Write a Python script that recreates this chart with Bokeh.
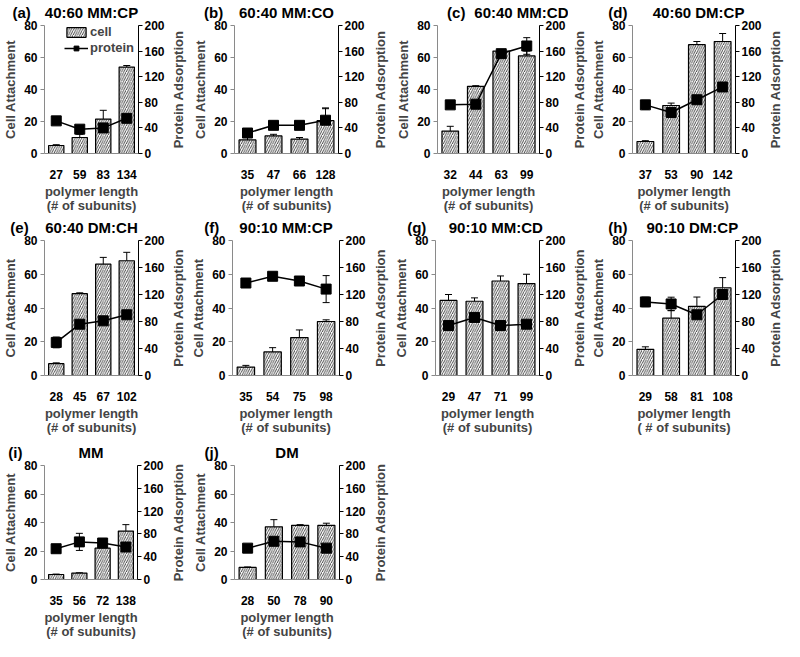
from bokeh.plotting import figure
from bokeh.layouts import column, row
from bokeh.models import (ColumnDataSource, Range1d, LinearAxis, FixedTicker, Whisker,
                          TeeHead, Legend, LegendItem)
from bokeh.embed import file_html
from bokeh.resources import INLINE

# ---- data ----
panel_ids = ["(a)", "(b)", "(c)", "(d)", "(e)", "(f)", "(g)", "(h)", "(i)", "(j)"]
panel_titles = ["40:60 MM:CP", "60:40 MM:CO", "60:40 MM:CD", "40:60 DM:CP",
                "60:40 DM:CH", "90:10 MM:CP", "90:10 MM:CD", "90:10 DM:CP",
                "MM", "DM"]
lengths_a = ["27", "59", "83", "134"]
lengths_b = ["35", "47", "66", "128"]
lengths_c = ["32", "44", "63", "99"]
lengths_d = ["37", "53", "90", "142"]
lengths_e = ["28", "45", "67", "102"]
lengths_f = ["35", "54", "75", "98"]
lengths_g = ["29", "47", "71", "99"]
lengths_h = ["29", "58", "81", "108"]
lengths_i = ["35", "56", "72", "138"]
lengths_j = ["28", "50", "78", "90"]

cell_a = [5, 10, 21.5, 54];   cell_err_a = [0.5, 2, 5.5, 1]
cell_b = [8.5, 11, 9, 20.5];  cell_err_b = [2.5, 1, 1, 8]
cell_c = [14, 42, 64, 61];    cell_err_c = [3, 0.4, 1, 3]
cell_d = [7.5, 30, 68, 70];   cell_err_d = [0.5, 1.5, 2, 5]
cell_e = [7, 48.5, 66, 68];   cell_err_e = [0.5, 0.5, 4, 5]
cell_f = [5, 14, 22.5, 32];   cell_err_f = [1, 2.5, 4.5, 1]
cell_g = [44.5, 44, 56, 54.5]; cell_err_g = [3.5, 2, 3, 5.5]
cell_h = [15.5, 34, 41, 52];  cell_err_h = [1.5, 4.5, 5.5, 6]
cell_i = [3.5, 4.5, 22, 34];  cell_err_i = [0.3, 0.2, 5, 4.5]
cell_j = [8.5, 37, 38, 38];   cell_err_j = [0.3, 5, 0.5, 1.5]

prot_a = [51, 38, 40, 55];    prot_err_a = [0, 0, 3, 0]
prot_b = [32, 44, 44, 52];    prot_err_b = [4, 2, 2, 18]
prot_c = [76, 77, 156, 168];  prot_err_c = [2, 2, 4, 13]
prot_d = [76, 64, 84, 104];   prot_err_d = [7, 5, 6, 2]
prot_e = [49, 76, 81, 90];    prot_err_e = [8, 15, 15, 10]
prot_f = [137, 147, 140, 128]; prot_err_f = [3, 5, 3, 20]
prot_g = [74, 86, 74, 76];    prot_err_g = [3, 12, 8, 15]
prot_h = [109, 106, 90, 120]; prot_err_h = [7, 10, 10, 4]
prot_i = [54, 66, 64, 57];    prot_err_i = [0, 15, 8, 0]
prot_j = [55, 67, 66, 55];    prot_err_j = [0, 13, 8, 0]

left_ticks = [0, 20, 40, 60, 80]
right_ticks = [0, 40, 80, 120, 160, 200]

lengths = [lengths_a, lengths_b, lengths_c, lengths_d, lengths_e,
           lengths_f, lengths_g, lengths_h, lengths_i, lengths_j]
cells = [cell_a, cell_b, cell_c, cell_d, cell_e, cell_f, cell_g, cell_h, cell_i, cell_j]
cell_errs = [cell_err_a, cell_err_b, cell_err_c, cell_err_d, cell_err_e,
             cell_err_f, cell_err_g, cell_err_h, cell_err_i, cell_err_j]
prots = [prot_a, prot_b, prot_c, prot_d, prot_e, prot_f, prot_g, prot_h, prot_i, prot_j]
prot_errs = [prot_err_a, prot_err_b, prot_err_c, prot_err_d, prot_err_e,
             prot_err_f, prot_err_g, prot_err_h, prot_err_i, prot_err_j]

FONT = "Liberation Sans"
GRAY = "#8a8a8a"
NB = "\u00a0"
LAB_W = 20  # width of the strip that carries "Protein Adsorption"

# layout (page px): width, height, border left/right/top/bottom,
# id padding (trailing, leading) and name padding (leading) in nbsp
layout_spec = [
    (167, 215, 36, 27, 23, 59, 11, 0, 0), (182, 215, 47, 31, 23, 60, 10, 0, 0),
    (179, 215, 48, 28, 23, 60, 0, 9, 16), (176, 215, 43, 27, 23, 60, 7, 0, 7),
    (167, 222, 36, 27, 25, 61, 12, 0, 0), (182, 222, 45, 30, 25, 61, 10, 0, 0),
    (179, 222, 46, 29, 25, 61, 9, 0, 4), (176, 222, 43, 27, 25, 61, 7, 0, 4),
    (167, 204, 36, 30, 28, 46, 14, 0, 0), (182, 204, 47, 30, 24, 46, 11, 0, 0),
]


def style_text_axis(ax):
    ax.major_label_text_font = FONT
    ax.major_label_text_font_style = "bold"
    ax.major_label_text_font_size = "12px"
    ax.major_label_text_color = "black"
    ax.axis_label_text_font = FONT
    ax.axis_label_text_font_style = "bold"
    ax.axis_label_text_font_size = "13px"
    ax.minor_tick_line_color = None


def make_panel(k):
    w, h, bl, br, bt, bb, id_trail, id_lead, name_pad = layout_spec[k]
    frame_h = h - bt - bb
    p = figure(width=w, height=h, output_backend="svg", toolbar_location=None,
               x_range=Range1d(0.5, 4.5), y_range=Range1d(0, 80),
               min_border_left=bl, min_border_right=br,
               min_border_top=bt, min_border_bottom=bb)
    p.extra_y_ranges = {"right": Range1d(0, 200)}
    p.outline_line_color = None
    p.xgrid.visible = False
    p.ygrid.visible = False
    p.background_fill_color = "white"
    p.border_fill_color = "white"

    xs = [1, 2, 3, 4]
    c = cells[k]; ce = cell_errs[k]; pr = prots[k]; pe = prot_errs[k]
    src = ColumnDataSource(dict(
        x=xs, cell=c,
        cup=[a + b for a, b in zip(c, ce)], clo=[a - b for a, b in zip(c, ce)],
        prot=pr,
        pup=[a + b for a, b in zip(pr, pe)], plo=[a - b for a, b in zip(pr, pe)],
    ))

    bars = p.vbar(x="x", top="cell", bottom=0, width=0.65, source=src,
                  fill_color="white", line_color="black", line_width=1.2,
                  hatch_pattern="/", hatch_color="#333333", hatch_scale=4.5,
                  hatch_weight=0.9)
    p.add_layout(Whisker(source=src, base="x", upper="cup", lower="clo",
                         line_color="black", line_width=1,
                         upper_head=TeeHead(size=7, line_color="black", line_width=1),
                         lower_head=TeeHead(size=7, line_color="black", line_width=1)))
    ln = p.line(x="x", y="prot", source=src, y_range_name="right",
                line_color="black", line_width=1.5)
    mk = p.scatter(x="x", y="prot", source=src, y_range_name="right", marker="square",
                   size=10, fill_color="black", line_color="black")
    p.add_layout(Whisker(source=src, base="x", upper="pup", lower="plo",
                         y_range_name="right", line_color="black", line_width=1,
                         upper_head=TeeHead(size=7, line_color="black", line_width=1),
                         lower_head=TeeHead(size=7, line_color="black", line_width=1)))

    # bottom axis
    xa = p.xaxis[0]
    style_text_axis(xa)
    xa.ticker = FixedTicker(ticks=xs)
    xa.major_label_overrides = {x: lab for x, lab in zip(xs, lengths[k])}
    xa.major_tick_line_color = None
    xa.axis_line_color = GRAY
    xa.major_label_standoff = 10
    pl = "( # of subunits)" if k == 7 else "(# of subunits)"
    xa.axis_label = "polymer length\n" + pl
    xa.axis_label_standoff = 2
    try:
        xa.axis_label_text_line_height = 0.95
    except Exception:
        pass

    # left axis
    ya = p.yaxis[0]
    style_text_axis(ya)
    ya.ticker = FixedTicker(ticks=left_ticks)
    ya.axis_line_color = GRAY
    ya.major_tick_line_color = GRAY
    ya.major_tick_out = 4
    ya.major_tick_in = 0
    ya.major_label_standoff = 3
    ya.axis_label = "Cell Attachment"
    ya.axis_label_standoff = 3

    # right axis (ticks only; its label is carried by the strip to the right)
    ra = LinearAxis(y_range_name="right", ticker=FixedTicker(ticks=right_ticks))
    style_text_axis(ra)
    ra.axis_line_color = "black"
    ra.major_tick_line_color = "black"
    ra.major_tick_out = 4
    ra.major_tick_in = 0
    ra.major_label_standoff = 2
    p.add_layout(ra, "right")

    # heading row: panel id at the frame's left edge, panel name at its centre
    ta = LinearAxis(ticker=FixedTicker(ticks=[0.5, 2.5]))
    style_text_axis(ta)
    ta.axis_line_color = None
    ta.major_tick_line_color = None
    ta.major_tick_out = 0
    ta.major_tick_in = 0
    ta.major_label_standoff = 5
    ta.major_label_text_font_size = "15px"
    ta.major_label_overrides = {0.5: NB * id_lead + panel_ids[k] + NB * id_trail,
                                2.5: NB * name_pad + panel_titles[k]}
    p.add_layout(ta, "above")

    if k == 0:
        leg = Legend(items=[LegendItem(label="cell", renderers=[bars]),
                            LegendItem(label="protein", renderers=[ln, mk])],
                     location=(20, frame_h - 35), background_fill_alpha=0,
                     border_line_color=None, padding=0, margin=0, spacing=1,
                     glyph_width=24, glyph_height=12, label_height=14,
                     label_standoff=2, label_text_font=FONT,
                     label_text_font_style="bold", label_text_font_size="13px")
        p.add_layout(leg)
    return p


def make_label_strip(k):
    """Narrow strip whose left axis carries the right-hand axis title of panel k."""
    h, bt, bb = layout_spec[k][1], layout_spec[k][4], layout_spec[k][5]
    s = figure(width=LAB_W, height=h, output_backend="svg", toolbar_location=None,
               x_range=Range1d(0, 1), y_range=Range1d(0, 200),
               x_axis_location=None, y_axis_location=None,
               min_border_left=LAB_W - 2, min_border_right=0,
               min_border_top=bt, min_border_bottom=bb)
    s.outline_line_color = None
    s.grid.visible = False
    s.background_fill_color = "white"
    s.border_fill_color = "white"
    ax = LinearAxis(ticker=FixedTicker(ticks=[]))
    style_text_axis(ax)
    ax.axis_line_color = None
    ax.major_tick_line_color = None
    ax.major_tick_out = 0
    ax.major_tick_in = 0
    ax.major_label_standoff = 0
    ax.axis_label = "Protein Adsorption"
    ax.axis_label_standoff = 1
    s.add_layout(ax, "left")
    return s


figs = [make_panel(k) for k in range(10)]
strips = [make_label_strip(k) for k in range(10)]


def interleave(ks):
    out = []
    for k in ks:
        out += [figs[k], strips[k]]
    return out


layout = column(
    row(*interleave([0, 1, 2, 3]), spacing=0),
    row(*interleave([4, 5, 6, 7]), spacing=0),
    row(*interleave([8, 9]), spacing=0),
    spacing=0,
)

open("out.html", "w").write(file_html(layout, INLINE))
